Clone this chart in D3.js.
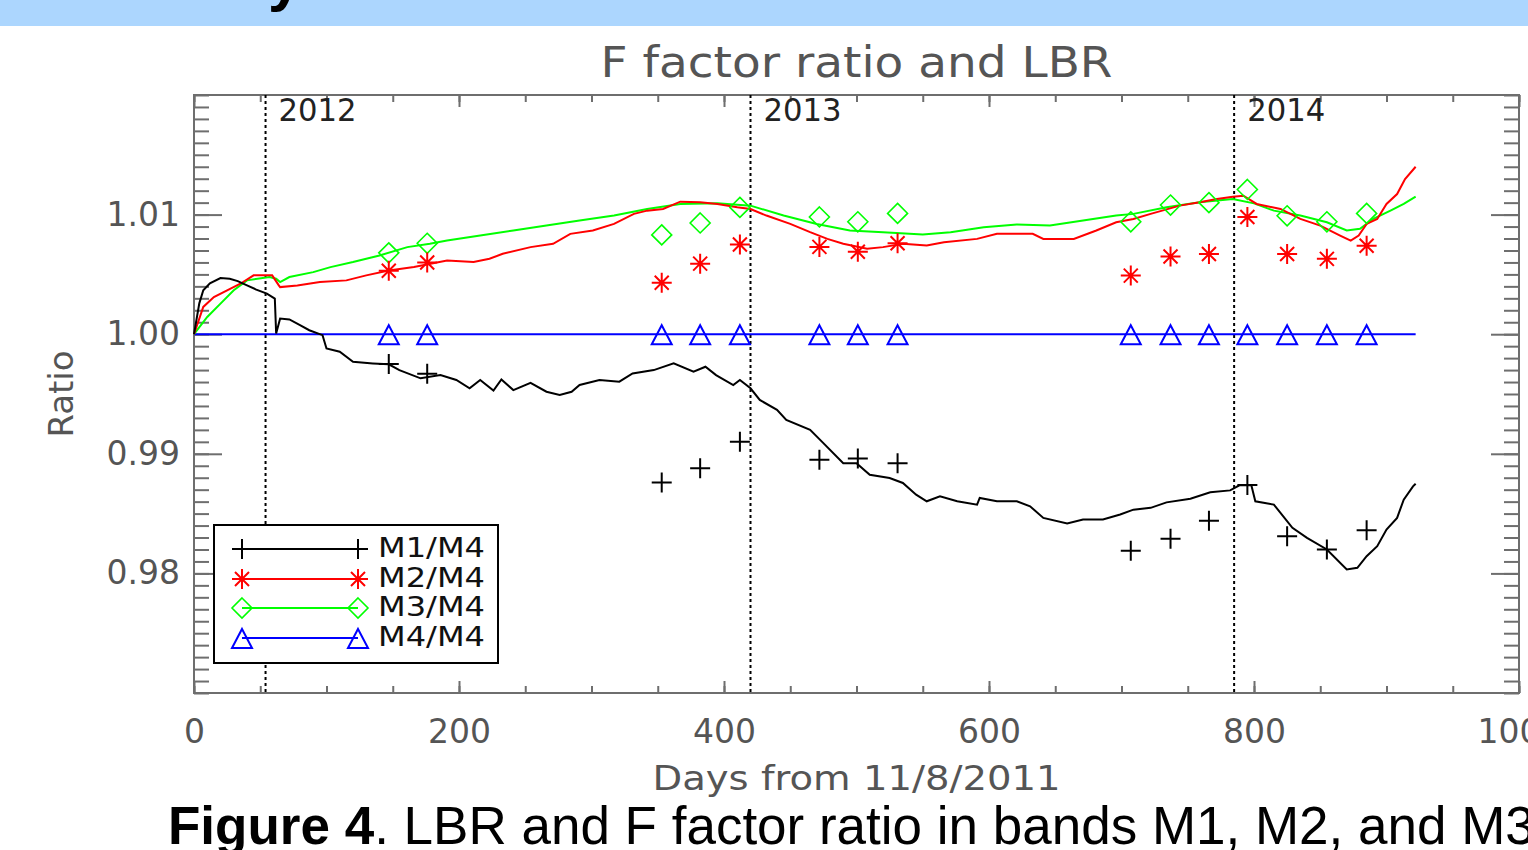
<!DOCTYPE html>
<html><head><meta charset="utf-8">
<script src="https://cdn.jsdelivr.net/npm/d3@7"></script>
<style>html,body{margin:0;padding:0;background:#fff;overflow:hidden} svg{display:block}</style>
</head><body>
<svg id="chart" width="1528" height="850"></svg>
<script>
// ---------- data ----------
const xTickValues = [0, 200, 400, 600, 800, 1000];
const xMinorTicks = d3.range(0, 1001, 50);
const yTickValues = [0.98, 0.99, 1.00, 1.01];
const yMinorTicks = d3.range(970, 1021, 1).map(d => d / 1000);
const yearDays = [54, 420, 785];
const yearLabels = ["2012", "2013", "2014"];
const seriesNames = ["M1/M4", "M2/M4", "M3/M4", "M4/M4"];
const seriesColors = ["#000000", "#ff0000", "#00ff00", "#0000ff"];

const sampleDays = [147, 176, 353, 382, 412, 472, 501, 531, 707, 737, 766, 795, 825, 855, 885];
const m1Points = [0.9975, 0.9967, 0.9876, 0.9888, 0.9910, 0.9895, 0.9896, 0.9892, 0.9819, 0.9829, 0.9844, 0.9874, 0.9831, 0.9820, 0.9836];
const m2Points = [1.0053, 1.0060, 1.0043, 1.0059, 1.0075, 1.0073, 1.0069, 1.0076, 1.0049, 1.0065, 1.0067, 1.0098, 1.0067, 1.0063, 1.0074];
const m3Points = [1.0068, 1.0076, 1.0083, 1.0093, 1.0106, 1.0098, 1.0094, 1.0101, 1.0094, 1.0108, 1.0110, 1.0121, 1.0099, 1.0094, 1.0101];
const m4Points = [1, 1, 1, 1, 1, 1, 1, 1, 1, 1, 1, 1, 1, 1, 1];

const m1Line = [[0,1.0000],[4,1.00258],[7,1.00367],[12,1.00425],[20,1.00469],[27,1.00464],[33,1.00444],[40,1.00408],[47,1.00373],[55,1.00339],[61,1.00298],[62,1.00006],[65,1.00131],[72,1.00123],[80,1.00075],[87,1.00033],[97,0.99992],[100,0.99881],[110,0.99853],[120,0.99769],[135,0.99756],[147,0.99748],[155,0.99700],[171,0.99631],[186,0.99658],[198,0.99617],[208,0.99548],[216,0.99617],[226,0.99528],[232,0.99622],[241,0.99533],[254,0.99594],[266,0.99519],[276,0.99492],[285,0.99519],[291,0.99575],[306,0.99617],[321,0.99603],[331,0.99672],[347,0.99700],[362,0.99756],[377,0.99686],[386,0.99728],[394,0.99658],[407,0.99575],[412,0.99617],[420,0.99548],[427,0.99450],[440,0.99367],[447,0.99283],[465,0.99200],[475,0.99089],[490,0.98922],[500,0.98922],[510,0.98825],[525,0.98797],[535,0.98756],[545,0.98658],[553,0.98603],[563,0.98644],[576,0.98603],[591,0.98575],[593,0.98631],[606,0.98603],[621,0.98603],[631,0.98561],[641,0.98464],[659,0.98417],[671,0.98450],[686,0.98450],[699,0.98492],[709,0.98533],[722,0.98548],[734,0.98594],[752,0.98625],[767,0.98678],[782,0.98694],[789,0.98736],[798,0.98736],[801,0.98603],[815,0.98575],[829,0.98381],[840,0.98297],[855,0.98200],[870,0.98033],[878,0.98047],[885,0.98144],[893,0.98228],[900,0.98367],[908,0.98464],[913,0.98617],[920,0.98728],[922,0.98750]];

const m2Line = [[0,1.0000],[7,1.00228],[15,1.00311],[25,1.00367],[35,1.00422],[45,1.00492],[59,1.00492],[64,1.00408],[65,1.00394],[78,1.00408],[95,1.00436],[115,1.00450],[130,1.00492],[147,1.00533],[166,1.00561],[191,1.00617],[211,1.00603],[223,1.00631],[233,1.00672],[254,1.00728],[271,1.00756],[284,1.00839],[301,1.00867],[317,1.00922],[332,1.01006],[342,1.01033],[354,1.01047],[367,1.01108],[382,1.01103],[395,1.01089],[410,1.01061],[420,1.01047],[432,1.00992],[450,1.00922],[465,1.00853],[478,1.00797],[490,1.00756],[508,1.00714],[520,1.00728],[535,1.00756],[553,1.00742],[566,1.00769],[591,1.00797],[606,1.00839],[633,1.00839],[641,1.00797],[664,1.00797],[681,1.00867],[696,1.00936],[709,1.00964],[722,1.01006],[744,1.01075],[759,1.01103],[772,1.01131],[784,1.01150],[792,1.01158],[802,1.01089],[820,1.01047],[835,1.00964],[850,1.00908],[865,1.00825],[873,1.00783],[879,1.00825],[885,1.00922],[893,1.00964],[900,1.01089],[908,1.01172],[914,1.01297],[922,1.01400]];

const m3Line = [[0,1.0000],[10,1.00144],[20,1.00256],[30,1.00367],[40,1.00450],[57,1.00478],[62,1.00464],[65,1.00436],[72,1.00478],[90,1.00519],[103,1.00561],[120,1.00603],[140,1.00658],[161,1.00728],[178,1.00756],[191,1.00783],[216,1.00825],[241,1.00867],[266,1.00908],[291,1.00950],[317,1.00992],[342,1.01047],[367,1.01089],[395,1.01094],[420,1.01075],[445,1.00992],[470,1.00922],[495,1.00867],[520,1.00853],[550,1.00833],[571,1.00853],[596,1.00894],[621,1.00917],[646,1.00908],[671,1.00950],[696,1.00992],[709,1.01006],[734,1.01061],[759,1.01103],[784,1.01131],[800,1.01094],[815,1.01033],[835,1.00992],[855,1.00936],[870,1.00867],[880,1.00881],[890,1.00964],[903,1.01033],[913,1.01089],[922,1.01150]];

const m4Line = [[0,1.0000],[922,1.0000]];

// ---------- layout ----------
const svg = d3.select("#chart");
const x = d3.scaleLinear().domain([0, 1000]).range([194, 1519]);
const y = d3.scaleLinear().domain([0.97, 1.02]).range([693, 95]);
const gray = "#555";
const frameColor = "#6e6e6e";
const tickFont = "'DejaVu Sans', sans-serif";
const capFont = "'Liberation Sans', Arial, sans-serif";

// top banner
svg.append("rect").attr("x", 0).attr("y", 0).attr("width", 1528).attr("height", 26).attr("fill", "#acd6fe");
svg.append("text").attr("x", 268).attr("y", 0).attr("font-family", capFont)
  .attr("font-weight", "bold").attr("font-size", 60).attr("fill", "#000").text("y");

// title
svg.append("text").attr("x", (x(0) + x(1000)) / 2).attr("y", 77).attr("text-anchor", "middle")
  .attr("font-family", tickFont).attr("font-size", 42).attr("fill", gray)
  .attr("textLength", 512).attr("lengthAdjust", "spacingAndGlyphs").text("F factor ratio and LBR");

// axes
function styleAxis(g) {
  g.select(".domain").remove();
  g.selectAll("line").attr("stroke", frameColor).attr("stroke-width", 2);
  g.selectAll("text").attr("font-family", tickFont).attr("font-size", 33).attr("fill", gray);
}
// left
svg.append("g").attr("transform", `translate(${x(0)},0)`)
  .call(d3.axisLeft(y).tickValues(yMinorTicks).tickSize(-15).tickFormat("")).call(styleAxis);
svg.append("g").attr("transform", `translate(${x(0)},0)`)
  .call(d3.axisLeft(y).tickValues(yTickValues).tickSize(-28).tickPadding(14).tickFormat(d3.format(".2f"))).call(styleAxis);
// right
svg.append("g").attr("transform", `translate(${x(1000)},0)`)
  .call(d3.axisRight(y).tickValues(yMinorTicks).tickSize(-15).tickFormat("")).call(styleAxis);
svg.append("g").attr("transform", `translate(${x(1000)},0)`)
  .call(d3.axisRight(y).tickValues(yTickValues).tickSize(-28).tickFormat("")).call(styleAxis);
// bottom
svg.append("g").attr("transform", `translate(0,${y(0.97)})`)
  .call(d3.axisBottom(x).tickValues(xMinorTicks).tickSize(-7).tickFormat("")).call(styleAxis);
svg.append("g").attr("transform", `translate(0,${y(0.97)})`)
  .call(d3.axisBottom(x).tickValues(xTickValues).tickSize(-12).tickPadding(27).tickFormat(d3.format("d"))).call(styleAxis);
// top
svg.append("g").attr("transform", `translate(0,${y(1.02)})`)
  .call(d3.axisTop(x).tickValues(xMinorTicks).tickSize(-7).tickFormat("")).call(styleAxis);
svg.append("g").attr("transform", `translate(0,${y(1.02)})`)
  .call(d3.axisTop(x).tickValues(xTickValues).tickSize(-12).tickFormat("")).call(styleAxis);

// frame
svg.append("rect").attr("x", x(0)).attr("y", y(1.02)).attr("width", x(1000) - x(0)).attr("height", y(0.97) - y(1.02))
  .attr("fill", "none").attr("stroke", frameColor).attr("stroke-width", 2);

// axis titles
svg.append("text").attr("x", (x(0) + x(1000)) / 2).attr("y", 790).attr("text-anchor", "middle")
  .attr("font-family", tickFont).attr("font-size", 34).attr("fill", gray)
  .attr("textLength", 408).attr("lengthAdjust", "spacingAndGlyphs").text("Days from 11/8/2011");
svg.append("text").attr("transform", `translate(73,${(y(0.97) + y(1.02)) / 2}) rotate(-90)`).attr("text-anchor", "middle")
  .attr("font-family", tickFont).attr("font-size", 34).attr("fill", gray)
  .attr("textLength", 87).attr("lengthAdjust", "spacingAndGlyphs").text("Ratio");

// year lines
const yearG = svg.append("g");
yearG.selectAll("line").data(yearDays).join("line")
  .attr("x1", d => x(d)).attr("x2", d => x(d)).attr("y1", y(1.02)).attr("y2", y(0.97))
  .attr("stroke", "#000").attr("stroke-width", 2).attr("stroke-dasharray", "3,3");
yearG.selectAll("text").data(yearDays).join("text")
  .attr("x", d => x(d) + 13).attr("y", 121)
  .attr("font-family", tickFont).attr("font-size", 32).attr("fill", "#222")
  .attr("textLength", 78).attr("lengthAdjust", "spacingAndGlyphs")
  .text((d, i) => yearLabels[i]);

// markers
const markerPaths = [
  "M-10,0H10M0,-10V10",
  "M-10,0H10M0,-10V10M-7,-7L7,7M-7,7L7,-7",
  "M0,-10L10,0L0,10L-10,0Z",
  "M0,-9L10,10L-10,10Z"
];
const markerWidths = [2, 2, 1.6, 2];

// lines
const line = d3.line().x(d => x(d[0])).y(d => y(d[1]));
const lineData = [m1Line, m2Line, m3Line, m4Line];
const pointData = [m1Points, m2Points, m3Points, m4Points];
const lg = svg.append("g");
[3, 2, 1, 0].forEach(i => {
  lg.append("path").datum(lineData[i]).attr("d", line).attr("fill", "none")
    .attr("stroke", seriesColors[i]).attr("stroke-width", 2).attr("stroke-linejoin", "miter");
});
[3, 2, 1, 0].forEach(i => {
  lg.append("g").selectAll("path").data(sampleDays).join("path")
    .attr("transform", (d, j) => `translate(${x(d)},${y(pointData[i][j])})`)
    .attr("d", markerPaths[i]).attr("fill", "none").attr("stroke", seriesColors[i]).attr("stroke-width", markerWidths[i]);
});

// legend
const legend = svg.append("g");
legend.append("rect").attr("x", 214).attr("y", 525).attr("width", 284).attr("height", 138)
  .attr("fill", "#fff").attr("stroke", "#000").attr("stroke-width", 2);
const rowY = [549, 579, 608, 638];
seriesNames.forEach((name, i) => {
  const r = legend.append("g").attr("transform", `translate(0,${rowY[i]})`);
  r.append("line").attr("x1", 242).attr("x2", 358).attr("y1", 0).attr("y2", 0)
    .attr("stroke", seriesColors[i]).attr("stroke-width", 2);
  [242, 358].forEach(px => r.append("path").attr("transform", `translate(${px},0)`).attr("d", markerPaths[i])
    .attr("fill", "none").attr("stroke", seriesColors[i]).attr("stroke-width", markerWidths[i]));
  r.append("text").attr("x", 378).attr("y", 8).attr("font-family", tickFont).attr("font-size", 27)
    .attr("fill", "#111").attr("textLength", 107).attr("lengthAdjust", "spacingAndGlyphs").text(name);
});

// caption
const cap = svg.append("text").attr("x", 168).attr("y", 844)
  .attr("font-family", capFont).attr("font-size", 53).attr("fill", "#000");
cap.append("tspan").attr("font-weight", "bold").text("Figure 4");
cap.append("tspan").text(". LBR and F factor ratio in bands M1, M2, and M3");
</script>
</body></html>
